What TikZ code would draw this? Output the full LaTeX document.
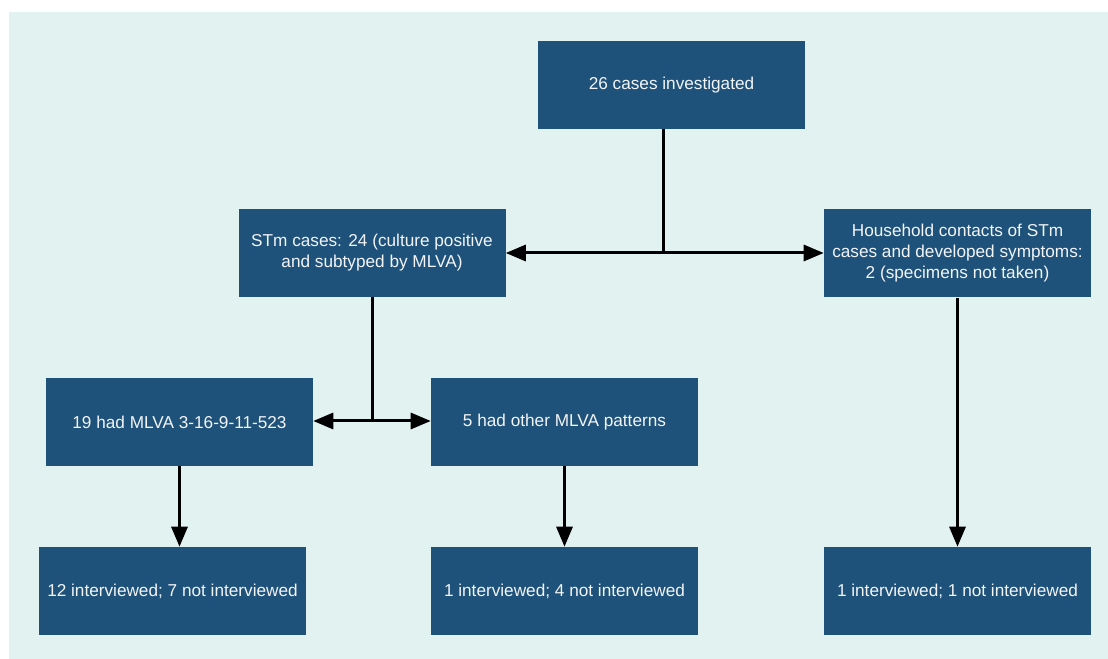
\documentclass[tikz,border=0pt]{standalone}
\usepackage{fontspec}
\setmainfont{Liberation Sans}
\usepackage{tikz}
\usetikzlibrary{arrows.meta,positioning}
\definecolor{boxblue}{RGB}{31,82,122}
\definecolor{paleteal}{RGB}{226,242,241}
\definecolor{boxtext}{RGB}{242,244,246}

\begin{document}
\begin{tikzpicture}[x=0.75pt,y=-0.75pt,
    flowbox/.style={fill=boxblue,text=boxtext,minimum width=200.25pt,minimum height=66pt,
        align=center,inner sep=2pt,font=\fontsize{12.9}{15.75}\selectfont},
    link/.style={line width=2.25pt,black},
    tip/.style={-{Triangle[length=15pt,width=12pt]}}]
                \useasboundingbox (0,0) rectangle (1108,659);
                \fill[paleteal] (9,12) rectangle (1108,659);
                % Boxes
                \node[flowbox] (top) at (671.5,85) {26 cases investigated};
                \node[flowbox] (stm) at (372,253) {STm cases: 24 (culture positive\\and subtyped by MLVA)};
                \node[flowbox] (household) at (957.5,253.5) {Household contacts of STm\\cases and developed symptoms:\\2 (specimens not taken)};
                \node[flowbox] (mlva) at (179.5,422) {19 had MLVA 3-16-9-11-523};
                \node[flowbox] (other) at (564.5,422) {5 had other MLVA patterns};
                \node[flowbox] (intA) at (172.5,591) {12 interviewed; 7 not interviewed};
                \node[flowbox] (intB) at (564.5,591) {1 interviewed; 4 not interviewed};
                \node[flowbox] (intC) at (957.5,591) {1 interviewed; 1 not interviewed};
                % Splits
                \coordinate (splitA) at (663,253);
                \coordinate (splitB) at (372,421);
                \draw[link] (top.south -| splitA) -- (splitA);
                \draw[link,{Triangle[length=15pt,width=12pt]}-{Triangle[length=15pt,width=12pt]}]
                    (stm.east |- splitA) -- (household.west |- splitA);
                \draw[link] (stm.south) -- (splitB);
                \draw[link,{Triangle[length=15pt,width=12pt]}-{Triangle[length=15pt,width=12pt]}]
                    (mlva.east |- splitB) -- (other.west |- splitB);
                % Down arrows
                \draw[link,tip] (mlva.south) -- (mlva.south |- intA.north);
                \draw[link,tip] (other.south) -- (intB.north);
                \draw[link,tip] (household.south) -- (intC.north);
            \end{tikzpicture}
\end{document}
